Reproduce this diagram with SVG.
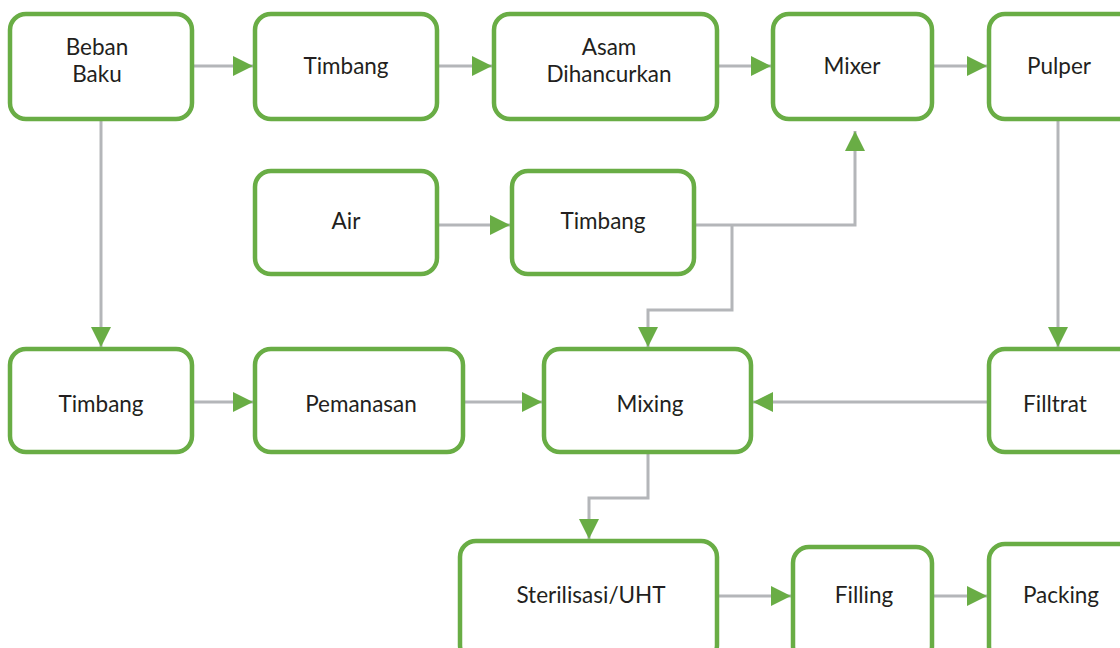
<svg xmlns="http://www.w3.org/2000/svg" width="1120" height="648" viewBox="0 0 1120 648">
<defs>
<style>
.box{fill:#fff;stroke:#69ad45;stroke-width:4.5}
.lbl{font-family:Lato,"Noto Sans",sans-serif;font-size:22.5px;fill:#231f20;text-anchor:middle}
.con{fill:none;stroke:#b4b6b9;stroke-width:3}
</style>
<marker id="ah" viewBox="0 0 20 20" refX="20" refY="10" markerWidth="20" markerHeight="20" markerUnits="userSpaceOnUse" orient="auto">
<path d="M0,0 L20,10 L0,20 Z" fill="#69ad45"/>
</marker>
</defs>
<rect width="1120" height="648" fill="#fff"/>
<g id="connectors">
<path class="con" d="M192,66 H253" marker-end="url(#ah)"/>
<path class="con" d="M437,66 H492" marker-end="url(#ah)"/>
<path class="con" d="M717,66 H771" marker-end="url(#ah)"/>
<path class="con" d="M932,66 H987" marker-end="url(#ah)"/>
<path class="con" d="M101,119 V347" marker-end="url(#ah)"/>
<path class="con" d="M437,225 H510" marker-end="url(#ah)"/>
<path class="con" d="M694,225 H855 V131" marker-end="url(#ah)"/>
<path class="con" d="M732,225 V310 H648 V347" marker-end="url(#ah)"/>
<path class="con" d="M1058,119 V347" marker-end="url(#ah)"/>
<path class="con" d="M192,402 H253" marker-end="url(#ah)"/>
<path class="con" d="M463,402 H542" marker-end="url(#ah)"/>
<path class="con" d="M989,402 H753" marker-end="url(#ah)"/>
<path class="con" d="M648,452 V498 H589 V539" marker-end="url(#ah)"/>
<path class="con" d="M717,596 H791" marker-end="url(#ah)"/>
<path class="con" d="M932,596 H987" marker-end="url(#ah)"/>
</g>
<g id="n-beban"><rect class="box" x="10" y="14" width="182" height="105" rx="16"/><text class="lbl" x="97" y="55">Beban</text><text class="lbl" x="97" y="82">Baku</text></g>
<g id="n-timbang1"><rect class="box" x="255" y="14" width="182" height="105" rx="16"/><text class="lbl" x="346" y="74">Timbang</text></g>
<g id="n-asam"><rect class="box" x="494" y="14" width="223" height="105" rx="16"/><text class="lbl" x="609" y="55">Asam</text><text class="lbl" x="609" y="82">Dihancurkan</text></g>
<g id="n-mixer"><rect class="box" x="773" y="14" width="159" height="105" rx="16"/><text class="lbl" x="852" y="74">Mixer</text></g>
<g id="n-pulper"><rect class="box" x="989" y="14" width="150" height="105" rx="16"/><text class="lbl" x="1059" y="74">Pulper</text></g>
<g id="n-air"><rect class="box" x="255" y="171" width="182" height="103" rx="16"/><text class="lbl" x="346" y="229">Air</text></g>
<g id="n-timbang2"><rect class="box" x="512" y="171" width="182" height="103" rx="16"/><text class="lbl" x="603" y="229">Timbang</text></g>
<g id="n-timbang3"><rect class="box" x="10" y="349" width="182" height="103" rx="16"/><text class="lbl" x="101" y="412">Timbang</text></g>
<g id="n-pemanasan"><rect class="box" x="255" y="349" width="208" height="103" rx="16"/><text class="lbl" x="361" y="412">Pemanasan</text></g>
<g id="n-mixing"><rect class="box" x="544" y="349" width="207" height="103" rx="16"/><text class="lbl" x="650" y="412">Mixing</text></g>
<g id="n-filltrat"><rect class="box" x="989" y="349" width="150" height="103" rx="16"/><text class="lbl" x="1055" y="412">Filltrat</text></g>
<g id="n-steril"><rect class="box" x="460" y="541" width="257" height="120" rx="16"/><text class="lbl" x="591" y="603">Sterilisasi/UHT</text></g>
<g id="n-filling"><rect class="box" x="793" y="547" width="139" height="115" rx="16"/><text class="lbl" x="864" y="603">Filling</text></g>
<g id="n-packing"><rect class="box" x="989" y="544" width="150" height="118" rx="16"/><text class="lbl" x="1061" y="603">Packing</text></g>
</svg>
